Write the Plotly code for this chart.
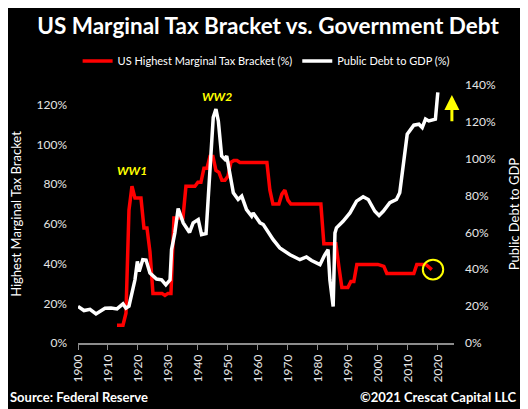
import plotly.graph_objects as go

# US top marginal tax rate (%), left axis
tax_years = [1913, 1914, 1915, 1916, 1917, 1918, 1919, 1920, 1921, 1922, 1923, 1924,
             1925, 1926, 1927, 1928, 1929, 1930, 1931, 1932, 1933, 1934, 1935, 1936,
             1937, 1938, 1939, 1940, 1941, 1942, 1943, 1944, 1945, 1946, 1947, 1948,
             1949, 1950, 1951, 1952, 1953, 1954, 1956, 1958, 1960, 1962, 1963, 1964,
             1965, 1966, 1967, 1968, 1969, 1970, 1971, 1975, 1981, 1982, 1986, 1987,
             1988, 1989, 1990, 1991, 1992, 1993, 1996, 2000, 2001, 2002, 2003, 2008,
             2012, 2013, 2016, 2018]
tax_rate = [9, 9, 9, 15, 67, 79, 73, 73, 73, 58, 58, 46,
            25, 25, 25, 25, 24, 25, 25, 63, 63, 63, 63, 79,
            79, 79, 79, 81, 81, 88, 88, 94, 94, 87, 86, 82,
            82, 84, 91, 92, 92, 91, 91, 91, 91, 91, 91, 77,
            70, 70, 70, 75, 77, 72, 70, 70, 70, 50, 50, 38.5,
            28, 28, 28, 31, 31, 39.6, 39.6, 39.6, 39.1, 38.6, 35, 35,
            35, 39.6, 39.6, 37]

# Public debt to GDP (%), right axis
debt_years = [1900, 1902, 1904, 1906, 1909, 1911, 1913, 1915, 1916, 1917, 1919, 1919.8,
              1920.4, 1921.6, 1922.7, 1924, 1926.2, 1927.9, 1929.3, 1930.7, 1931.2, 1932.3,
              1933.4, 1935.1, 1937.2, 1938.4, 1940.1, 1940.7, 1941.2, 1942.7, 1944, 1945.1,
              1946, 1946.8, 1947.9, 1949, 1949.6, 1950.7, 1951.8, 1953.4, 1954.6, 1956.2,
              1957.9, 1958.4, 1960.7, 1961.8, 1965.1, 1967.3, 1970.7, 1974, 1976.2, 1977.9,
              1979, 1980.7, 1982.3, 1983.4, 1984, 1985.1, 1985.7, 1986.2, 1988.4, 1990.7,
              1992.9, 1995.1, 1996.8, 1999, 2000.4, 2001.8, 2004, 2006.2, 2007.3, 2009,
              2009.8, 2012, 2013.7, 2014.8, 2015.9, 2017, 2019.2, 2020]
debt_gdp = [19.8, 17.6, 18.3, 15.8, 18.9, 19, 18.5, 21.2, 18.9, 20, 34.3, 44.3,
            38.8, 45.2, 45, 38, 34.7, 34.3, 31.6, 34.3, 50.7, 59.7,
            73, 65.2, 60, 65.2, 67, 63.3, 58.8, 59.4, 97.9, 122.4,
            126.9, 120.5, 101.5, 99.7, 101.5, 92.4, 81.5, 77.9, 79.7, 72.4,
            68.8, 70.6, 65.2, 64.3, 56.1, 51.6, 47.9, 45.2, 46.7, 44.8,
            43.7, 42.5, 47.9, 50.7, 34.3, 19.8, 59.7, 62.5, 66, 70.6,
            77, 79.4, 77.9, 71.5, 69.2, 71.5, 76.1, 77.9, 81.5, 103.3,
            113.3, 118.2, 118.7, 116.9, 121.5, 120.5, 121.5, 136]

x_ticks = list(range(1900, 2021, 10))

font_name = 'Lato'
fig = go.Figure()
fig.add_trace(go.Scatter(x=tax_years, y=tax_rate, mode='lines',
                         name='US Highest Marginal Tax Bracket (%)',
                         line=dict(color='#ff0000', width=3.5), yaxis='y'))
fig.add_trace(go.Scatter(x=debt_years, y=debt_gdp, mode='lines',
                         name='Public Debt to GDP (%)',
                         line=dict(color='#ffffff', width=3.5), yaxis='y2'))

# page body has an 8px margin, so the figure is 8px smaller than the window
fig.update_layout(
    width=520, height=401,
    margin=dict(l=70, r=74, t=77, b=66, autoexpand=False),
    plot_bgcolor='black', paper_bgcolor='black',
    font=dict(family=font_name, color='#e6e6e6', size=12),
    title=dict(text='<b>US Marginal Tax Bracket vs. Government Debt</b>',
               x=0.5, xanchor='center', y=0.955, yanchor='middle',
               font=dict(family=font_name, size=22.5, color='white')),
    legend=dict(orientation='h', x=-0.001, xanchor='left', y=1.093, yanchor='middle',
                font=dict(size=11, color='white'), itemwidth=30,
                bgcolor='rgba(0,0,0,0)'),
    xaxis=dict(range=[1900, 2025.4], tickvals=x_ticks, tickangle=-90,
               showgrid=False, zeroline=False, showline=True, linecolor='#8c8c8c',
               linewidth=1.5, ticks='outside', tickcolor='#8c8c8c', ticklen=5,
               tickfont=dict(size=12, color='#e6e6e6'), automargin=False),
    yaxis=dict(range=[0, 130], dtick=20, ticksuffix='%', showgrid=False, zeroline=False,
               automargin=False, ticklabelstandoff=10,
               title=dict(text='Highest Marginal Tax Bracket',
                          font=dict(size=13, color='white')),
               tickfont=dict(size=12, color='#e6e6e6')),
    yaxis2=dict(range=[0, 140], dtick=20, ticksuffix='%', overlaying='y', side='right',
                showgrid=False, zeroline=False, automargin=False, ticklabelstandoff=10,
                title=dict(text='Public Debt to GDP',
                           font=dict(size=13, color='white')),
                tickfont=dict(size=12, color='#e6e6e6')),
)

fig.add_annotation(x=1918, y=87, xref='x', yref='y', text='<b><i>WW1</i></b>',
                   showarrow=False, font=dict(color='#ffff00', size=12))
fig.add_annotation(x=1946.3, y=124, xref='x', yref='y', text='<b><i>WW2</i></b>',
                   showarrow=False, font=dict(color='#ffff00', size=12))
# yellow arrow pointing up
fig.add_annotation(x=2024.7, y=125, ax=2024.7, ay=111, xref='x', yref='y',
                   axref='x', ayref='y', text='', showarrow=True,
                   arrowhead=2, arrowsize=1, arrowwidth=3, arrowcolor='#ffff00')
# circle around latest tax rate
fig.add_shape(type='circle', xref='x', yref='y', x0=2015, x1=2021.8, y0=32, y1=42,
              line=dict(color='#ffff00', width=2))

# footer
fig.add_annotation(x=-0.186, y=-0.209, xref='paper', yref='paper', xanchor='left',
                   yanchor='middle', showarrow=False,
                   text='<b>Source: Federal Reserve</b>',
                   font=dict(size=13, color='white'))
fig.add_annotation(x=1.173, y=-0.209, xref='paper', yref='paper', xanchor='right',
                   yanchor='middle', showarrow=False,
                   text='<b>©2021 Crescat Capital LLC</b>',
                   font=dict(size=13, color='white'))

fig.write_html("out.html")
